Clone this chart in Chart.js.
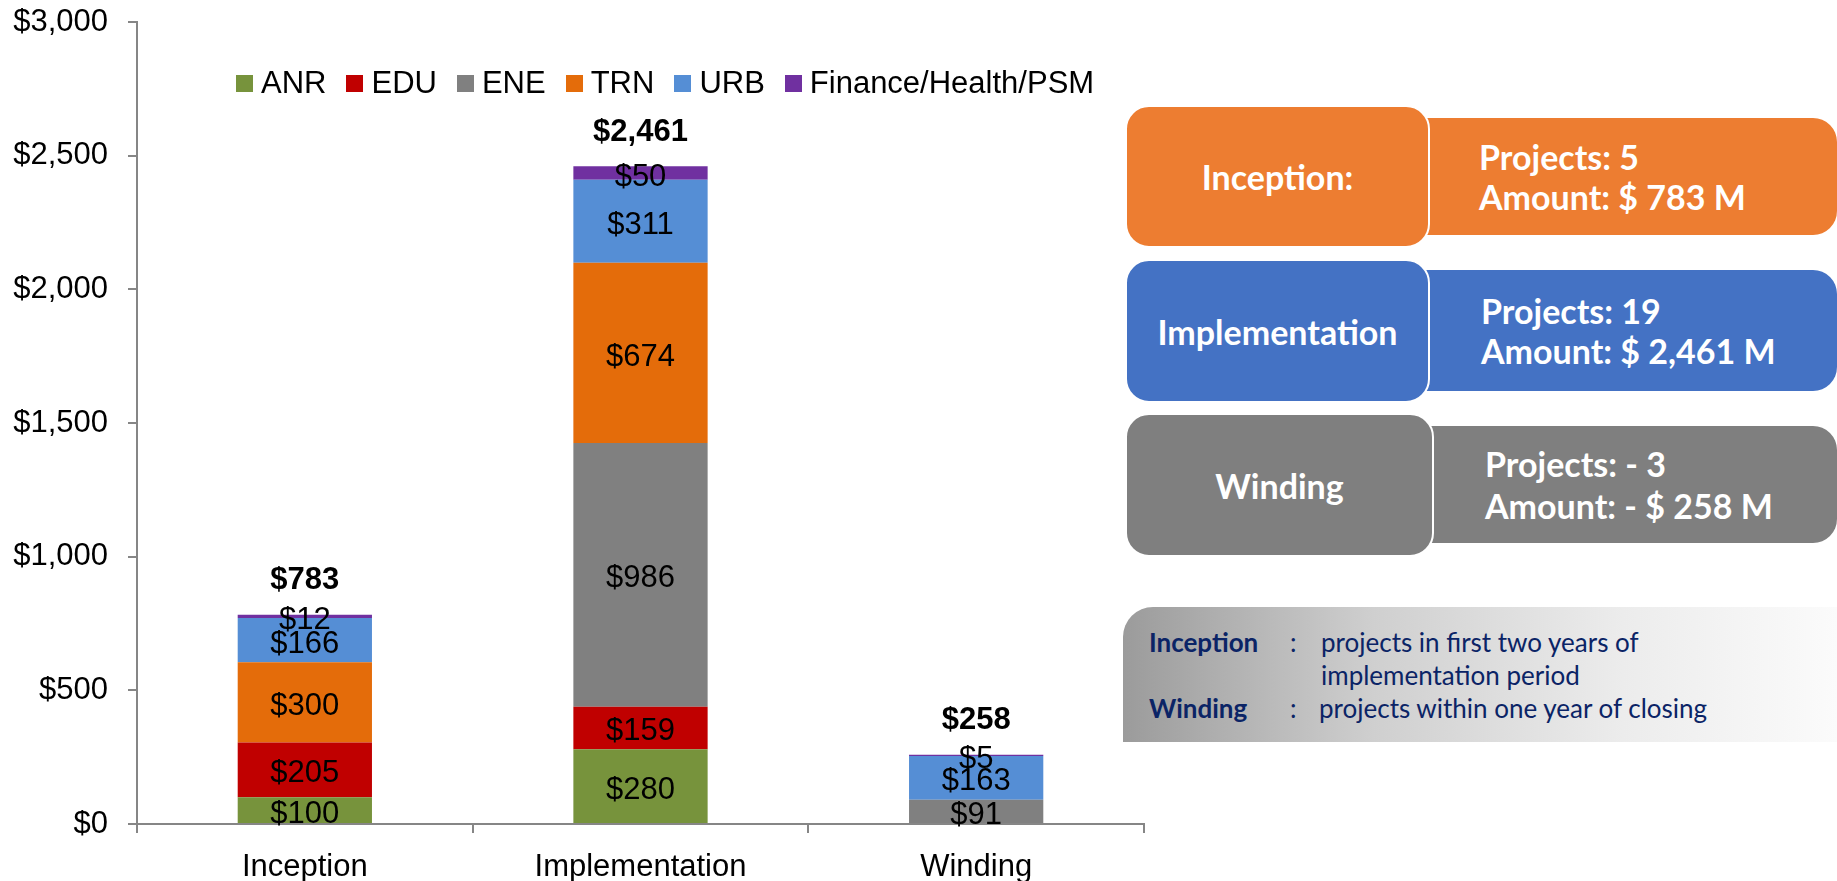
<!DOCTYPE html>
<html>
<head>
<meta charset="utf-8">
<title>Projects by stage</title>
<script src="https://cdn.jsdelivr.net/npm/chart.js@4.4.1/dist/chart.umd.min.js"></script>
<style>
  html, body { margin: 0; padding: 0; background: #fff; overflow: hidden; }
  #wrap { position: absolute; left: 0; top: 0; width: 1150px; height: 881px; }
  #legend {
    position: absolute; left: 236px; top: 65px; display: flex; align-items: center;
    font: 31px "Liberation Sans", Arial, sans-serif; color: #000; white-space: nowrap;
  }
  #legend .item { display: flex; align-items: center; margin-right: 20px; }
  #legend .sw { width: 17px; height: 17px; margin-right: 8px; }
  .box { position: absolute; color: #fff; font-family: Lato, "Open Sans", sans-serif; font-weight: bold; }
  .lbox { border: 2px solid #fff; border-radius: 24px; display: flex; align-items: center; justify-content: center;
          font-size: 34px; z-index: 2; box-sizing: border-box; }
  .rbox { border-radius: 0 24px 24px 0; display: flex; flex-direction: column; justify-content: center;
          font-size: 34px; line-height: 40px; z-index: 1; }
  #note {
    position: absolute; left: 1123px; top: 607px; width: 714px; height: 135px;
    border-radius: 30px 0 0 0;
    background: linear-gradient(to right, #9b9b9b 0%, #cfcfcf 35%, #ececec 70%, #fbfbfb 100%);
    font-family: Lato, "Open Sans", sans-serif; font-size: 26px; color: #0b2466;
  }
  #note span { position: absolute; white-space: nowrap; line-height: 30px; }
  #note b { font-weight: bold; }
</style>
</head>
<body>
<div id="wrap"><canvas id="chart"></canvas></div>
<div id="legend"></div>

<div class="box rbox" style="left:1420px;top:118px;width:417px;height:117px;background:#ed7d31;padding-left:59px;box-sizing:border-box;">
  <div>Projects: 5</div><div>Amount: $ 783 M</div>
</div>
<div class="box lbox" style="left:1125px;top:105px;width:305px;height:143px;background:#ed7d31;">Inception:</div>

<div class="box rbox" style="left:1420px;top:270px;width:417px;height:121px;background:#4472c4;padding-left:61px;box-sizing:border-box;">
  <div>Projects: 19</div><div>Amount: $ 2,461 M</div>
</div>
<div class="box lbox" style="left:1125px;top:259px;width:305px;height:144px;background:#4472c4;">Implementation</div>

<div class="box rbox" style="left:1424px;top:426px;width:413px;height:117px;background:#7f7f7f;padding-left:61px;box-sizing:border-box;line-height:42px;">
  <div>Projects: - 3</div><div>Amount: - $ 258 M</div>
</div>
<div class="box lbox" style="left:1125px;top:413px;width:309px;height:144px;background:#7f7f7f;">Winding</div>

<div id="note">
  <span style="left:26px;top:20px;"><b>Inception</b></span>
  <span style="left:167px;top:20px;">:</span>
  <span style="left:198px;top:20px;">projects in first two years of</span>
  <span style="left:198px;top:53px;">implementation period</span>
  <span style="left:26px;top:86px;"><b>Winding</b></span>
  <span style="left:167px;top:86px;">:</span>
  <span style="left:196px;top:86px;">projects within one year of closing</span>
</div>

<script>
// stages on the x axis
const stages = ['Inception', 'Implementation', 'Winding'];
// sector series, $ million
const sectors = ['ANR', 'EDU', 'ENE', 'TRN', 'URB', 'Finance/Health/PSM'];
const anr = [100, 280, 0];
const edu = [205, 159, 0];
const ene = [0, 986, 91];
const trn = [300, 674, 0];
const urb = [166, 311, 163];
const finHealthPsm = [12, 50, 5];
// totals as printed above the stacks
const totals = [783, 2461, 258];
// y axis
const yMin = 0;
const yMax = 3000;
const yStep = 500;

const sectorColors = ['#77933c', '#c00000', '#808080', '#e46c0a', '#558ed5', '#7030a0'];
const series = [anr, edu, ene, trn, urb, finHealthPsm];

const labelFont = '"Liberation Sans", Arial, sans-serif';

function money(v) {
    return '$' + v.toLocaleString('en-US');
}

const stackLabels = {
    id: 'stackLabels',
    afterDatasetsDraw(chart) {
        const ctx = chart.ctx;
        const yScale = chart.scales.y;
        ctx.save();
        ctx.textAlign = 'center';
        ctx.textBaseline = 'middle';
        ctx.fillStyle = '#000';
        ctx.font = '31px ' + labelFont;
        chart.data.datasets.forEach((ds, i) => {
            chart.getDatasetMeta(i).data.forEach((bar, j) => {
                const v = ds.data[j];
                if (!v) return;
                ctx.fillText(money(v), bar.x, (bar.y + bar.base) / 2 + 4);
            });
        });
        ctx.font = 'bold 31px ' + labelFont;
        stages.forEach((s, j) => {
            let top = 0;
            chart.data.datasets.forEach(ds => { top += ds.data[j]; });
            const x = chart.getDatasetMeta(0).data[j].x;
            ctx.fillText(money(totals[j]), x, yScale.getPixelForValue(top) - 34);
        });
        ctx.restore();
    }
};

const ctx = document.getElementById('chart').getContext('2d');
const chart = new Chart(ctx, {
    type: 'bar',
    data: {
        labels: stages,
        datasets: sectors.map((name, i) => ({
            label: name,
            data: series[i],
            backgroundColor: sectorColors[i],
            borderWidth: 0,
            categoryPercentage: 1,
            barPercentage: 0.4
        }))
    },
    options: {
        responsive: true,
        maintainAspectRatio: false,
        animation: false,
        layout: { padding: { left: 12, right: 6, top: 22, bottom: 0 } },
        plugins: {
            legend: { display: false },
            tooltip: { enabled: false }
        },
        scales: {
            x: {
                stacked: true,
                grid: { drawOnChartArea: false, tickLength: 9, color: '#868686', lineWidth: 2, offset: true },
                border: { color: '#868686', width: 2 },
                ticks: { color: '#000', padding: 19, font: { family: labelFont, size: 31, lineHeight: 1 } },
                afterFit: s => { s.height = 57; }
            },
            y: {
                stacked: true,
                min: yMin,
                max: yMax,
                grid: { drawOnChartArea: false, tickLength: 9, color: '#868686', lineWidth: 2 },
                border: { color: '#868686', width: 2 },
                ticks: {
                    stepSize: yStep,
                    color: '#000',
                    padding: 20,
                    font: { family: labelFont, size: 31 },
                    callback: v => money(v)
                },
                afterFit: s => { s.width = 125; s.paddingTop = 18; s.paddingBottom = 18; }
            }
        }
    },
    plugins: [stackLabels]
});

// legend built from the datasets
const legend = document.getElementById('legend');
chart.data.datasets.forEach(ds => {
    const item = document.createElement('div');
    item.className = 'item';
    const sw = document.createElement('span');
    sw.className = 'sw';
    sw.style.background = ds.backgroundColor;
    const txt = document.createElement('span');
    txt.textContent = ds.label;
    item.appendChild(sw);
    item.appendChild(txt);
    legend.appendChild(item);
});
</script>
</body>
</html>
